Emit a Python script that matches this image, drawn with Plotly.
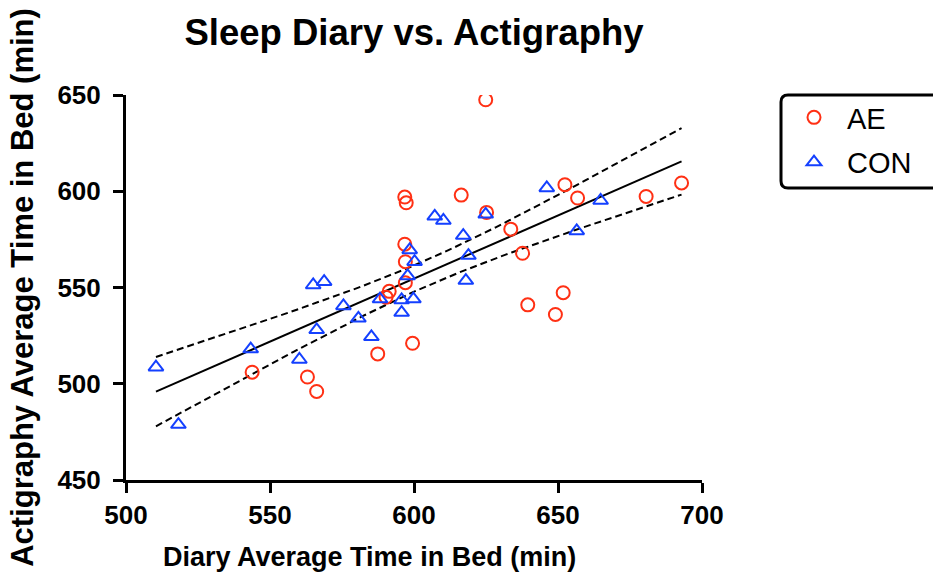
import numpy as np
import plotly.graph_objects as go

# AE group (diary, actigraphy)
ae_x = [543.8, 563.0, 566.2, 587.4, 590.3, 591.4, 597.0, 597.0, 596.8, 596.8, 597.3, 599.5,
        616.4, 624.9, 625.2, 633.6, 637.7, 639.5, 649.1, 651.8, 652.4, 656.8, 680.6, 692.9]
ae_y = [506.0, 503.5, 496.0, 515.5, 545.0, 548.0, 552.5, 563.4, 572.5, 597.0, 594.0, 521.0,
        598.0, 647.5, 589.0, 580.3, 567.8, 541.0, 536.0, 547.3, 603.4, 596.5, 597.3, 604.3]

# CON group
con_x = [510.4, 518.2, 543.3, 560.2, 565.0, 566.2, 568.8, 575.5, 580.7, 585.2, 588.2, 595.7, 595.7,
         597.8, 598.5, 599.8, 600.2, 607.2, 610.2, 617.1, 618.0, 618.9, 624.9, 646.1, 656.5, 664.8]
con_y = [508.6, 478.8, 518.0, 512.6, 551.3, 528.0, 553.0, 540.4, 534.0, 524.4, 544.0, 543.5, 537.0,
         556.0, 569.5, 544.0, 563.4, 587.0, 584.8, 577.0, 553.6, 566.6, 588.0, 601.7, 579.4, 595.2]

x_ticks = [500, 550, 600, 650, 700]
y_ticks = [450, 500, 550, 600, 650]

# linear regression with 95% confidence band on combined data
X = np.array(ae_x + con_x)
Y = np.array(ae_y + con_y)
n = len(X)
slope, intercept = np.polyfit(X, Y, 1)
resid = Y - (slope * X + intercept)
s = np.sqrt(np.sum(resid ** 2) / (n - 2))
xm = X.mean()
sxx = np.sum((X - xm) ** 2)
t_crit = 2.0106
xf = np.linspace(X.min(), X.max(), 100)
yf = slope * xf + intercept
se = s * np.sqrt(1.0 / n + (xf - xm) ** 2 / sxx)
upper = yf + t_crit * se
lower = yf - t_crit * se

RED = "#FF3014"
BLUE = "#1440FF"
FONT = "Arial, Liberation Sans, Helvetica, sans-serif"

# plot area geometry (pixels) used for paper-coordinate conversion
L, R, T, B = 126, 702, 95, 480
PW, PH = R - L, B - T


def px(xp):
    return (xp - L) / PW


def py(yp):
    return (B - yp) / PH


# rounded legend frame (extends past the right edge like the reference)
x0, x1, y0, y1, rad = 781, 946, 95, 188, 7
rx, ry = rad / PW, rad / PH
frame_path = (
    f"M {px(x0)+rx},{py(y0)} L {px(x1)-rx},{py(y0)} Q {px(x1)},{py(y0)} {px(x1)},{py(y0)-ry} "
    f"L {px(x1)},{py(y1)+ry} Q {px(x1)},{py(y1)} {px(x1)-rx},{py(y1)} "
    f"L {px(x0)+rx},{py(y1)} Q {px(x0)},{py(y1)} {px(x0)},{py(y1)+ry} "
    f"L {px(x0)},{py(y0)-ry} Q {px(x0)},{py(y0)} {px(x0)+rx},{py(y0)} Z"
)

fig = go.Figure()
fig.add_trace(go.Scatter(x=xf, y=upper, mode="lines", line=dict(color="black", width=2, dash="7px,4px"),
                         showlegend=False, hoverinfo="skip"))
fig.add_trace(go.Scatter(x=xf, y=lower, mode="lines", line=dict(color="black", width=2, dash="7px,4px"),
                         showlegend=False, hoverinfo="skip"))
fig.add_trace(go.Scatter(x=xf, y=yf, mode="lines", line=dict(color="black", width=2),
                         showlegend=False, hoverinfo="skip"))
fig.add_trace(go.Scatter(x=ae_x, y=ae_y, mode="markers", name="AE", legendgroup="ae",
                         marker=dict(symbol="circle-open", size=13, color=RED, line=dict(width=2, color=RED))))
fig.add_trace(go.Scatter(x=con_x, y=con_y, mode="markers", name="CON", legendgroup="con",
                         marker=dict(symbol="triangle-up-open", size=13, color=BLUE, line=dict(width=2, color=BLUE))))

axis_common = dict(showline=True, linecolor="black", linewidth=3, ticks="outside", ticklen=10,
                   tickwidth=3, tickcolor="black", showgrid=False, zeroline=False,
                   tickfont=dict(family=FONT, size=26, color="black", weight="bold"))

fig.update_layout(
    width=933, height=582,
    paper_bgcolor="white", plot_bgcolor="white",
    margin=dict(l=L, r=933 - R, t=T, b=582 - B, autoexpand=False),
    title=dict(text="<b>Sleep Diary vs. Actigraphy</b>", x=(L + R) / 2 / 933, xanchor="center",
               y=1 - 32 / 582, yanchor="middle", font=dict(family=FONT, size=36.5, color="black")),
    xaxis=dict(range=[500, 700], tickvals=x_ticks, ticktext=[str(v) for v in x_ticks], **axis_common),
    yaxis=dict(range=[450, 650], tickvals=y_ticks, ticktext=[str(v) for v in y_ticks],
               ticklabelstandoff=7,
               title=dict(text="<b>Actigraphy Average Time in Bed (min)</b>", standoff=15,
                          font=dict(family=FONT, size=31, color="black")), **axis_common),
    legend=dict(x=px(781), y=1.0 + 3 / PH, xanchor="left", yanchor="top",
                borderwidth=0, bgcolor="rgba(0,0,0,0)",
                font=dict(family=FONT, size=29, color="black"), tracegroupgap=4,
                itemwidth=56),
    showlegend=True,
    shapes=[dict(type="path", xref="paper", yref="paper", path=frame_path,
                 line=dict(color="black", width=3), fillcolor="rgba(0,0,0,0)", layer="above")],
    annotations=[dict(text="<b>Diary Average Time in Bed (min)</b>", xref="paper", yref="paper",
                      x=px(369), y=py(557), xanchor="center", yanchor="middle",
                      showarrow=False, font=dict(family=FONT, size=27, color="black"))],
)

fig.write_html("out.html")
